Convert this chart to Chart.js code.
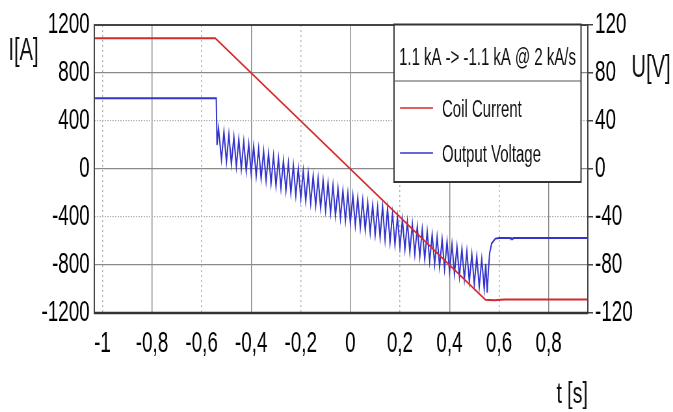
<!DOCTYPE html>
<html>
<head>
<meta charset="utf-8">
<script src="https://cdn.jsdelivr.net/npm/chart.js@4.4.1/dist/chart.umd.min.js"></script>
<style>
  html, body { margin: 0; padding: 0; background: #fff; overflow: hidden; }
  #wrap { width: 673px; height: 412px; overflow: hidden; }
  /* the source plot is horizontally condensed, so draw wide and squeeze */
  #chart { display: block; transform: scaleX(0.65024); transform-origin: 0 0; }
</style>
</head>
<body>
<div id="wrap"><canvas id="chart" width="1035" height="412"></canvas></div>
<script>
// axes
const xTicks = [-1, -0.8, -0.6, -0.4, -0.2, 0, 0.2, 0.4, 0.6, 0.8];
const xTickLabels = ["-1", "-0,8", "-0,6", "-0,4", "-0,2", "0", "0,2", "0,4", "0,6", "0,8"];
const xMajor = [-0.8, -0.4, 0, 0.4, 0.8];
const currentTicks = [-1200, -800, -400, 0, 400, 800, 1200];
const voltageTicks = [-120, -80, -40, 0, 40, 80, 120];

// coil current [A] vs time [s]
const currentT = [-1.033, -0.545, 0.545, 0.58, 0.62, 0.958];
const currentA = [1090, 1090, -1090, -1093, -1087, -1087];

// output voltage [V] vs time [s]
const voltageT = [
  -1.033, -0.541, -0.538, -0.532,
  -0.52, -0.51, -0.50, -0.49, -0.48, -0.47, -0.46, -0.45, -0.44, -0.43,
  -0.42, -0.41, -0.40, -0.39, -0.38, -0.37, -0.36, -0.35, -0.34, -0.33,
  -0.32, -0.31, -0.30, -0.29, -0.28, -0.27, -0.26, -0.25, -0.24, -0.23,
  -0.22, -0.21, -0.20, -0.19, -0.18, -0.17, -0.16, -0.15, -0.14, -0.13,
  -0.12, -0.11, -0.10, -0.09, -0.08, -0.07, -0.06, -0.05, -0.04, -0.03,
  -0.02, -0.01, 0.00, 0.01, 0.02, 0.03, 0.04, 0.05, 0.06, 0.07,
  0.08, 0.09, 0.10, 0.11, 0.12, 0.13, 0.14, 0.15, 0.16, 0.17,
  0.18, 0.19, 0.20, 0.21, 0.22, 0.23, 0.24, 0.25, 0.26, 0.27,
  0.28, 0.29, 0.30, 0.31, 0.32, 0.33, 0.34, 0.35, 0.36, 0.37,
  0.38, 0.39, 0.40, 0.41, 0.42, 0.43, 0.44, 0.45, 0.46, 0.47,
  0.48, 0.49, 0.50, 0.51, 0.52, 0.53, 0.54,
  0.546, 0.552, 0.557, 0.562, 0.570, 0.585, 0.600,
  0.645, 0.648, 0.651, 0.655, 0.658, 0.958
];
const voltageV = [
  59, 59, 20, 34,
  8, 31, 6, 29, 4, 27, 2, 25, 0, 23,
  -2, 21, -4, 19, -6, 17, -8, 15, -10, 13,
  -12, 11, -14, 9, -16, 7, -18, 5, -20, 3,
  -22, 0.5, -24.5, -1.5, -26.5, -3.5, -28.5, -5.5, -30.5, -7.5,
  -32.5, -9.5, -34.5, -11.5, -36.5, -13.5, -39, -16, -41, -18,
  -43, -20, -45, -22, -47, -24, -49, -26, -51, -28,
  -53, -30, -55, -32, -57, -31, -59, -33, -61, -37,
  -63, -40, -65, -42, -67, -44, -69, -46, -71, -48,
  -73, -50, -75, -52, -77, -54.5, -79.5, -56.5, -81.5, -58.5,
  -83.5, -60.5, -85.5, -62.5, -87.5, -64.5, -89.5, -66.5, -91.5, -68.5,
  -94, -71, -96, -73, -98, -75, -100,
  -79, -103, -84, -70, -62, -58, -57.5,
  -57.5, -58.5, -57.5, -58.5, -57.5, -57.5
];

const legendTitle = "1.1 kA -> -1.1 kA @ 2 kA/s";

const FONT = '"Liberation Sans", Arial, sans-serif';
const SQUEEZE = 673 / 1035;
const px = (xRef) => xRef / SQUEEZE; // picture x -> canvas x

const tickFont = { family: FONT, size: 29 };

// frame, axis titles and the boxed legend
const decorations = {
  id: "decorations",
  afterDraw(chart) {
    const { ctx, chartArea: a } = chart;
    ctx.save();

    ctx.strokeStyle = "#444";
    ctx.lineWidth = 2;
    ctx.strokeRect(a.left, a.top, a.right - a.left, a.bottom - a.top);
    ctx.beginPath();
    ctx.strokeStyle = "#333";
    ctx.lineWidth = 2.5;
    ctx.moveTo(a.left, a.bottom);
    ctx.lineTo(a.right, a.bottom);
    ctx.stroke();

    ctx.fillStyle = "#111";
    ctx.textBaseline = "alphabetic";
    ctx.font = `31px ${FONT}`;
    ctx.textAlign = "center";
    ctx.fillText("I[A]", px(23.5), 60);
    ctx.fillText("U[V]", px(651), 77);
    ctx.font = `30px ${FONT}`;
    ctx.textAlign = "right";
    ctx.fillText("t [s]", a.right, 403);

    const L = px(394), R = px(581), T = 24.5, B = 182;
    ctx.fillStyle = "#fff";
    ctx.fillRect(L, T, R - L, B - T);
    ctx.strokeStyle = "#333";
    ctx.lineWidth = 2;
    ctx.strokeRect(L, T, R - L, B - T);
    ctx.beginPath();
    ctx.strokeStyle = "#555";
    ctx.lineWidth = 1.2;
    ctx.moveTo(L, 81);
    ctx.lineTo(R, 81);
    ctx.stroke();

    ctx.font = `23px ${FONT}`;
    ctx.fillStyle = "#111";
    ctx.textAlign = "center";
    ctx.fillText(legendTitle, (L + R) / 2, 65);

    ctx.textAlign = "left";
    const lineY = [108, 153];
    const textY = [117, 162];
    chart.data.datasets.forEach((ds, i) => {
      ctx.beginPath();
      ctx.strokeStyle = ds.borderColor;
      ctx.lineWidth = 1.4;
      ctx.moveTo(px(400), lineY[i]);
      ctx.lineTo(px(433), lineY[i]);
      ctx.stroke();
      ctx.fillStyle = "#111";
      ctx.fillText(ds.label, px(442), textY[i]);
    });

    ctx.restore();
  },
};

const ctx = document.getElementById("chart").getContext("2d");

new Chart(ctx, {
  type: "line",
  data: {
    datasets: [
      {
        label: "Coil Current",
        data: currentT.map((t, i) => ({ x: t, y: currentA[i] })),
        yAxisID: "yI",
        borderColor: "#d42a2a",
        borderWidth: 2,
        pointRadius: 0,
        tension: 0,
      },
      {
        label: "Output Voltage",
        data: voltageT.map((t, i) => ({ x: t, y: voltageV[i] })),
        yAxisID: "yU",
        borderColor: "#3434cc",
        borderWidth: 2,
        pointRadius: 0,
        tension: 0,
      },
    ],
  },
  options: {
    responsive: false,
    animation: false,
    devicePixelRatio: 1,
    layout: { padding: { top: 25, left: 0, right: 0, bottom: 0 } },
    plugins: { legend: { display: false }, tooltip: { enabled: false } },
    scales: {
      x: {
        type: "linear",
        min: -1.033,
        max: 0.958,
        afterBuildTicks: (axis) => {
          axis.ticks = xTicks.map((v) => ({ value: v }));
        },
        afterFit: (axis) => {
          axis.height = 99;
        },
        ticks: {
          autoSkip: false,
          maxRotation: 0,
          padding: 14,
          color: "#000",
          font: tickFont,
          callback: (value, index) => xTickLabels[index],
        },
        grid: {
          drawTicks: false,
          lineWidth: 1.5,
          color: (c) => (c.tick && xMajor.includes(c.tick.value) ? "#8a8a8a" : "#b0b0b0"),
        },
        border: {
          display: false,
          dash: (c) => (c.tick && xMajor.includes(c.tick.value) ? [] : [2, 3]),
        },
      },
      yI: {
        position: "left",
        min: -1200,
        max: 1200,
        afterBuildTicks: (axis) => {
          axis.ticks = currentTicks.map((v) => ({ value: v }));
        },
        afterFit: (axis) => {
          axis.width = 145;
        },
        ticks: {
          padding: 7,
          color: "#000",
          font: tickFont,
          callback: (value) => String(value),
        },
        grid: {
          drawTicks: false,
          lineWidth: 1.2,
          color: (c) => {
            if (!c.tick || Math.abs(c.tick.value) === 1200) return "rgba(0,0,0,0)";
            return Math.abs(c.tick.value) === 400 ? "#b0b0b0" : "#8a8a8a";
          },
        },
        border: {
          display: false,
          dash: (c) => (c.tick && Math.abs(c.tick.value) === 400 ? [2, 2] : []),
        },
      },
      yU: {
        position: "right",
        min: -120,
        max: 120,
        afterBuildTicks: (axis) => {
          axis.ticks = voltageTicks.map((v) => ({ value: v }));
        },
        afterFit: (axis) => {
          axis.width = 131;
        },
        ticks: {
          padding: 3,
          color: "#000",
          font: tickFont,
          callback: (value) => String(value),
        },
        grid: {
          drawOnChartArea: false,
          drawTicks: true,
          tickLength: 8,
          tickColor: "#444",
          lineWidth: 1.5,
        },
        border: { display: false },
      },
    },
  },
  plugins: [decorations],
});
</script>
</body>
</html>
